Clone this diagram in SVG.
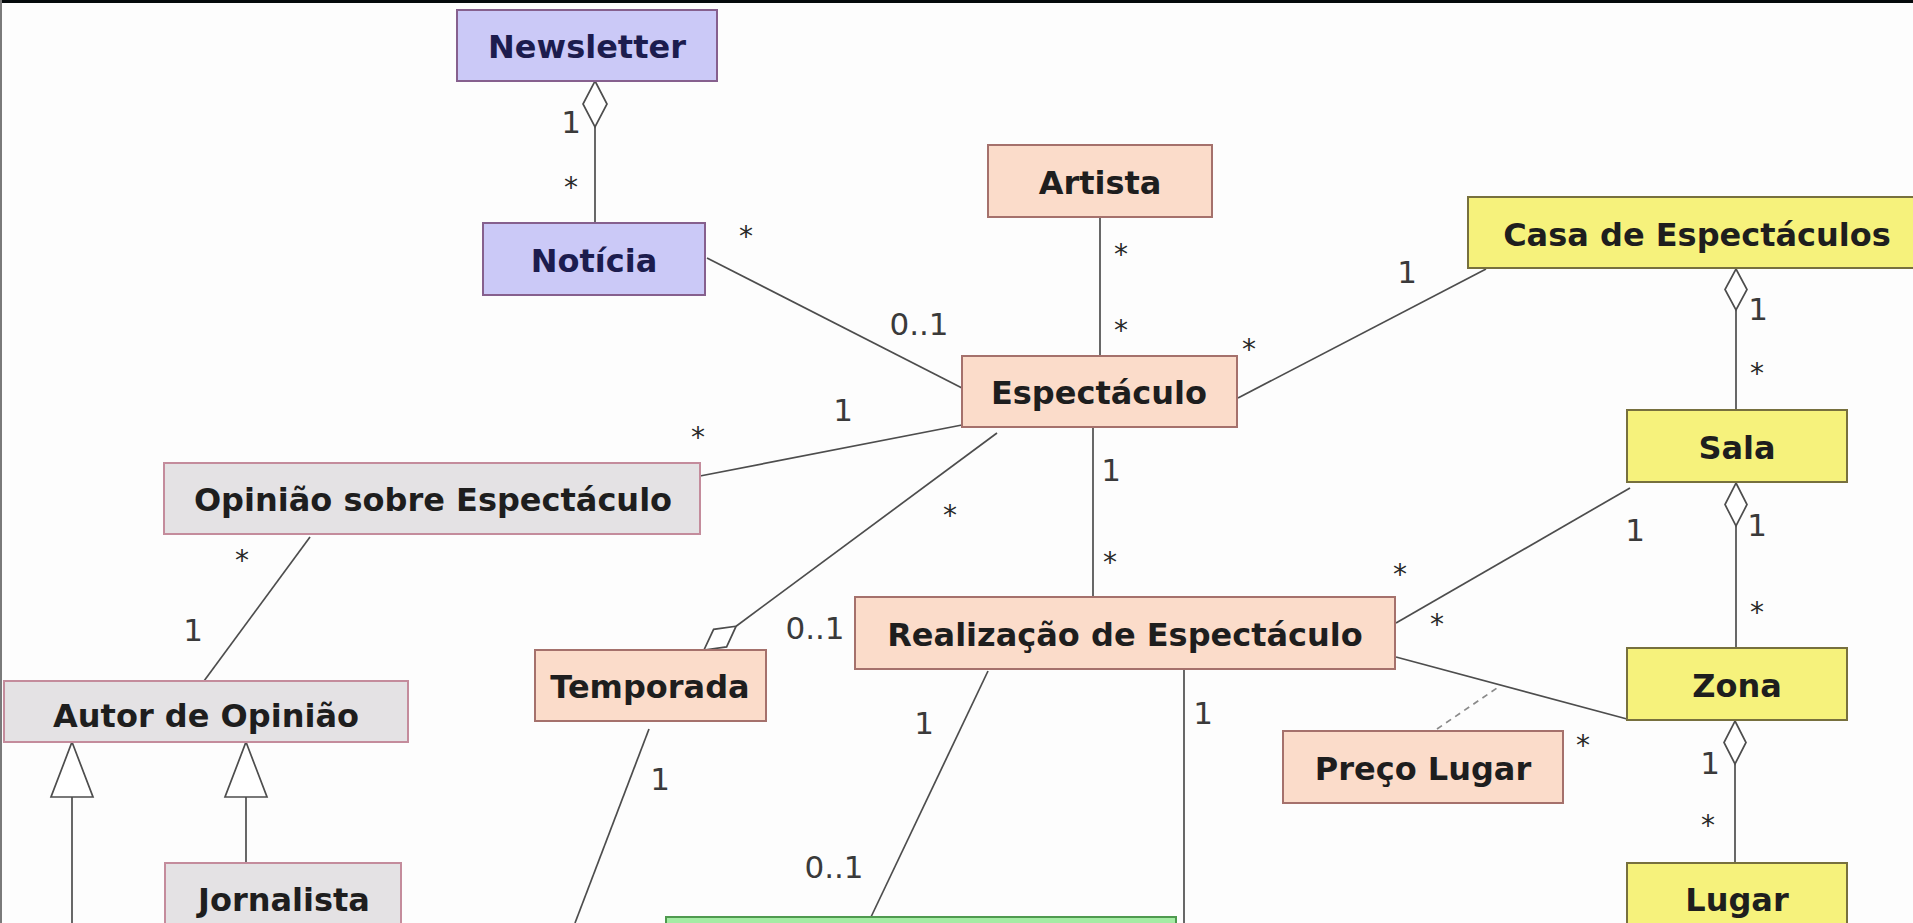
<svg xmlns="http://www.w3.org/2000/svg" width="1913" height="923" viewBox="0 0 1913 923">
<style>
.bx{stroke-width:2}
.blue{fill:#cbc9f7;stroke:#86608e}
.peach{fill:#fbdcca;stroke:#a5716c}
.yel{fill:#f6f27c;stroke:#77703e}
.gray{fill:#e4e2e4;stroke:#c48c9c}
.green{fill:#a4eca4;stroke:#4f9a4f}
.t{font-family:"DejaVu Sans",Verdana,sans-serif;font-weight:bold;font-size:32px;fill:#1e1e1e;text-anchor:middle}
.tb{fill:#1c1c4e}
.m{font-family:"DejaVu Sans",Verdana,sans-serif;font-size:31px;fill:#3a3a3a;text-anchor:middle}
.s{font-family:"DejaVu Sans",Verdana,sans-serif;font-size:28px;fill:#2a2a2a;text-anchor:middle}
.ln{stroke:#4d4d4d;stroke-width:1.7;fill:none}
.dia{stroke:#4d4d4d;stroke-width:1.7;fill:#ffffff}
.dash{stroke:#8a8a8a;stroke-width:1.7;stroke-dasharray:6 5;fill:none}
</style>
<rect x="0" y="0" width="1913" height="923" fill="#fdfdfd"/>
<rect x="0" y="0" width="1913" height="3" fill="#050a0c"/>
<rect x="0" y="0" width="2" height="923" fill="#7a7a7a"/>

<g id="connectors">
  <line class="ln" x1="595" y1="127" x2="595" y2="223"/>
  <polygon class="dia" points="595,81 607,104 595,127 583,104"/>
  <line class="ln" x1="707" y1="258" x2="962" y2="388"/>
  <line class="ln" x1="1100" y1="217" x2="1100" y2="356"/>
  <line class="ln" x1="1238" y1="398" x2="1486" y2="269"/>
  <line class="ln" x1="1736" y1="310" x2="1736" y2="410"/>
  <polygon class="dia" points="1736,269 1747,289.5 1736,310 1725,289.5"/>
  <line class="ln" x1="1736" y1="526" x2="1736" y2="648"/>
  <polygon class="dia" points="1736,483 1747,504.5 1736,526 1725,504.5"/>
  <line class="ln" x1="1735" y1="764" x2="1735" y2="863"/>
  <polygon class="dia" points="1735,721 1746,742.5 1735,764 1724,742.5"/>
  <line class="ln" x1="1396" y1="623" x2="1630" y2="488"/>
  <line class="ln" x1="1396" y1="657" x2="1627" y2="719"/>
  <line class="dash" x1="1437" y1="729" x2="1500" y2="686"/>
  <line class="ln" x1="700" y1="476" x2="962" y2="425"/>
  <line class="ln" x1="997" y1="433" x2="736.1" y2="626.2"/>
  <polygon class="dia" points="704,650 726.6,646.9 736.1,626.2 713.6,629.3"/>
  <line class="ln" x1="1093" y1="427" x2="1093" y2="597"/>
  <line class="ln" x1="310" y1="537" x2="204" y2="681"/>
  <polygon class="dia" points="72,742 93,797 51,797"/>
  <line class="ln" x1="72" y1="797" x2="72" y2="923"/>
  <polygon class="dia" points="246,742 267,797 225,797"/>
  <line class="ln" x1="246" y1="797" x2="246" y2="863"/>
  <line class="ln" x1="649" y1="729" x2="575" y2="923"/>
  <line class="ln" x1="988" y1="671" x2="871" y2="917"/>
  <line class="ln" x1="1184" y1="669" x2="1184" y2="923"/>
</g>

<g id="labels">
  <text class="m" x="571" y="133">1</text>
  <text class="s" x="571" y="197">*</text>
  <text class="s" x="746" y="246">*</text>
  <text class="m" x="919" y="335">0..1</text>
  <text class="s" x="1121" y="264">*</text>
  <text class="s" x="1121" y="340">*</text>
  <text class="m" x="1407" y="283">1</text>
  <text class="s" x="1249" y="359">*</text>
  <text class="m" x="1758" y="320">1</text>
  <text class="s" x="1757" y="383">*</text>
  <text class="m" x="1757" y="536">1</text>
  <text class="s" x="1757" y="622">*</text>
  <text class="m" x="1635" y="541">1</text>
  <text class="s" x="1400" y="584">*</text>
  <text class="s" x="1437" y="634">*</text>
  <text class="s" x="1583" y="755">*</text>
  <text class="m" x="1710" y="774">1</text>
  <text class="s" x="1708" y="835">*</text>
  <text class="s" x="698" y="447">*</text>
  <text class="m" x="843" y="421">1</text>
  <text class="s" x="950" y="525">*</text>
  <text class="m" x="815" y="639">0..1</text>
  <text class="m" x="1111" y="481">1</text>
  <text class="s" x="1110" y="572">*</text>
  <text class="s" x="242" y="570">*</text>
  <text class="m" x="193" y="641">1</text>
  <text class="m" x="660" y="790">1</text>
  <text class="m" x="924" y="734">1</text>
  <text class="m" x="834" y="878">0..1</text>
  <text class="m" x="1203" y="724">1</text>
</g>

<g id="newsletter"><rect class="bx blue" x="457" y="10" width="260" height="71"/><text class="t tb" x="587" y="58">Newsletter</text></g>
<g id="noticia"><rect class="bx blue" x="483" y="223" width="222" height="72"/><text class="t tb" x="594" y="272">Notícia</text></g>
<g id="artista"><rect class="bx peach" x="988" y="145" width="224" height="72"/><text class="t" x="1100" y="194">Artista</text></g>
<g id="casa"><rect class="bx yel" x="1468" y="197" width="460" height="71"/><text class="t" x="1697" y="246">Casa de Espectáculos</text></g>
<g id="espectaculo"><rect class="bx peach" x="962" y="356" width="275" height="71"/><text class="t" x="1099" y="404">Espectáculo</text></g>
<g id="sala"><rect class="bx yel" x="1627" y="410" width="220" height="72"/><text class="t" x="1737" y="459">Sala</text></g>
<g id="opiniao"><rect class="bx gray" x="164" y="463" width="536" height="71"/><text class="t" x="433" y="511">Opinião sobre Espectáculo</text></g>
<g id="autor"><rect class="bx gray" x="4" y="681" width="404" height="61"/><text class="t" x="206" y="727">Autor de Opinião</text></g>
<g id="jornalista"><rect class="bx gray" x="165" y="863" width="236" height="80"/><text class="t" x="284" y="911">Jornalista</text></g>
<g id="temporada"><rect class="bx peach" x="535" y="650" width="231" height="71"/><text class="t" x="650" y="698">Temporada</text></g>
<g id="realizacao"><rect class="bx peach" x="855" y="597" width="540" height="72"/><text class="t" x="1125" y="646">Realização de Espectáculo</text></g>
<g id="zona"><rect class="bx yel" x="1627" y="648" width="220" height="72"/><text class="t" x="1737" y="697">Zona</text></g>
<g id="preco"><rect class="bx peach" x="1283" y="731" width="280" height="72"/><text class="t" x="1423" y="780">Preço Lugar</text></g>
<g id="lugar"><rect class="bx yel" x="1627" y="863" width="220" height="80"/><text class="t" x="1737" y="911">Lugar</text></g>
<g id="green"><rect class="bx green" x="666" y="917" width="510" height="30"/></g>
</svg>
